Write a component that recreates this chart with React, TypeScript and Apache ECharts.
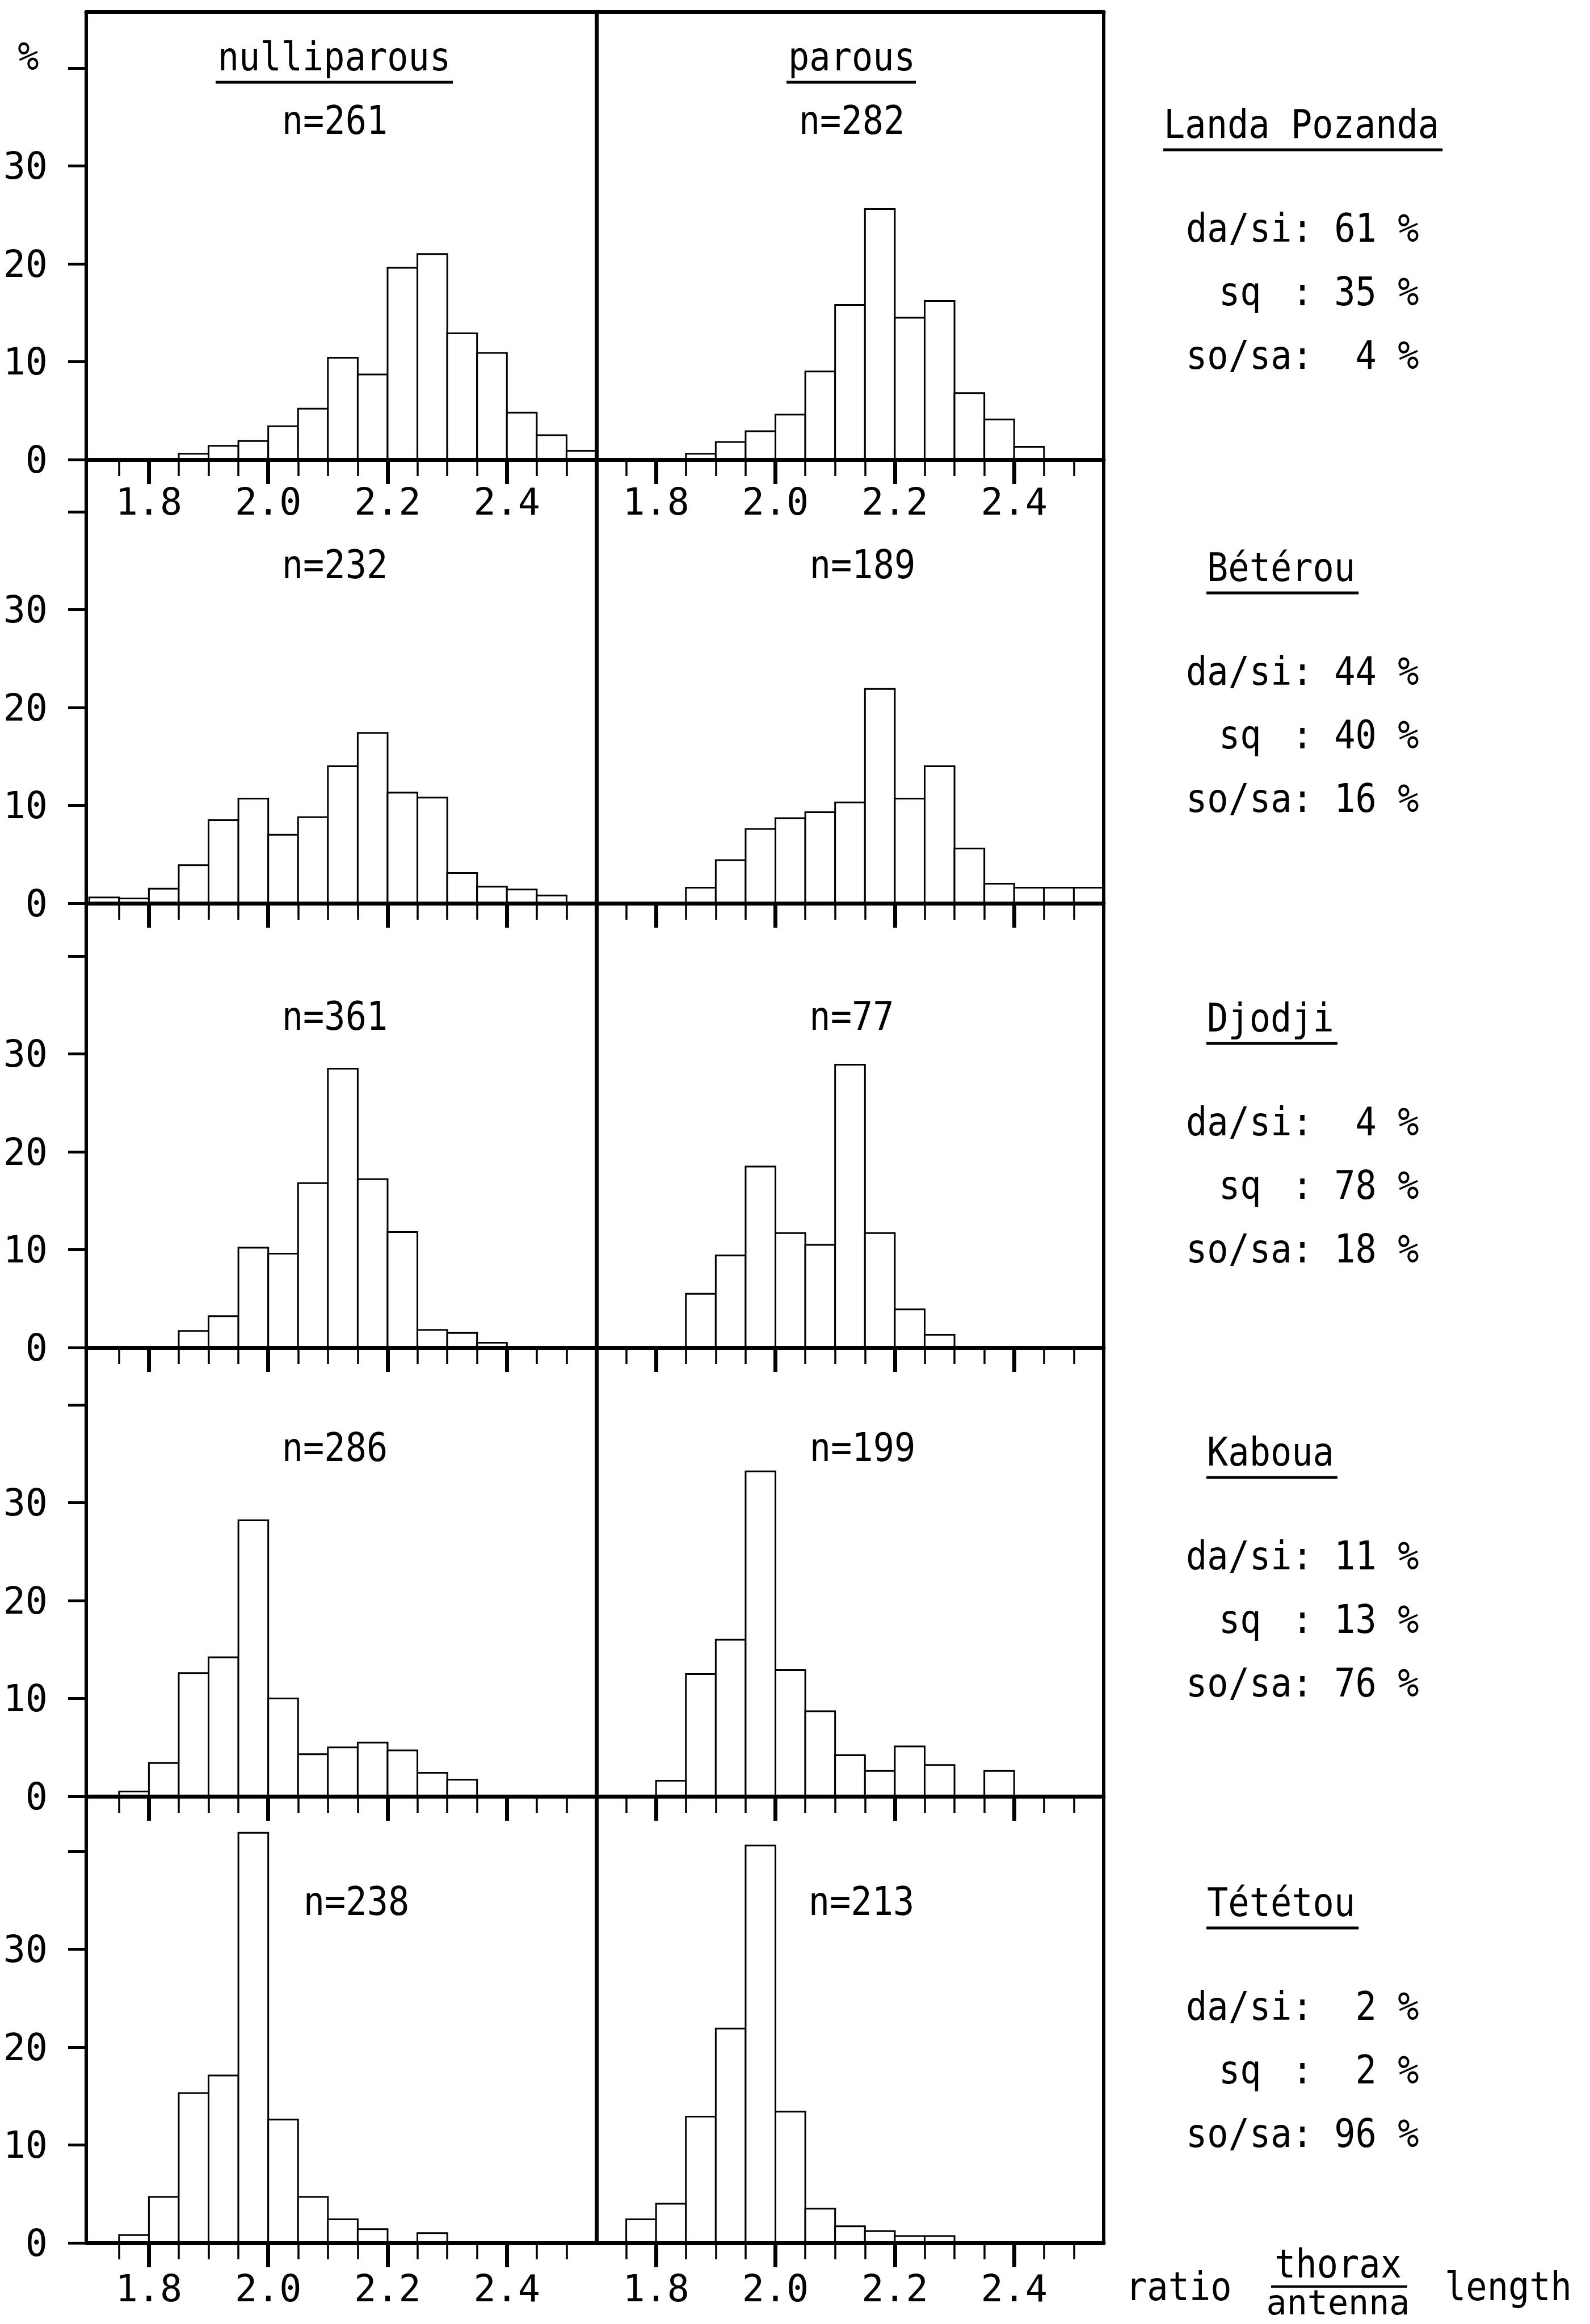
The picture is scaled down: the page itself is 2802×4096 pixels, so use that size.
import React, { useEffect, useRef } from "react";
import * as echarts from "echarts";

// ---------- data ----------
const BIN_EDGES = [1.7, 1.75, 1.8, 1.85, 1.9, 1.95, 2.0, 2.05, 2.1, 2.15, 2.2, 2.25, 2.3, 2.35, 2.4, 2.45, 2.5, 2.55];
const MINOR_TICKS = [1.75, 1.85, 1.9, 1.95, 2.05, 2.1, 2.15, 2.25, 2.3, 2.35, 2.45, 2.5];
const MAJOR_TICKS = [1.8, 2.0, 2.2, 2.4];
const Y_TICKS = [0, 10, 20, 30, 40];
const Y_LABELS = [0, 10, 20, 30];

const SITES = ["Landa Pozanda", "Bétérou", "Djodji", "Kaboua", "Tététou"];
const N_NULLIPAROUS = [261, 232, 361, 286, 238];
const N_PAROUS = [282, 189, 77, 199, 213];
const DA_SI = [61, 44, 4, 11, 2];
const SQ = [35, 40, 78, 13, 2];
const SO_SA = [4, 16, 18, 76, 96];

const NULLI_LANDA = [0, 0, 0, 0.6, 1.4, 1.9, 3.4, 5.2, 10.4, 8.7, 19.6, 21.0, 12.9, 10.9, 4.8, 2.5, 0.9];
const PAROUS_LANDA = [0, 0, 0, 0.6, 1.8, 2.9, 4.6, 9.0, 15.8, 25.6, 14.5, 16.2, 6.8, 4.1, 1.3, 0, 0];
const NULLI_BETEROU = [0.6, 0.5, 1.5, 3.9, 8.5, 10.7, 7.0, 8.8, 14.0, 17.4, 11.3, 10.8, 3.1, 1.7, 1.4, 0.8, 0];
const PAROUS_BETEROU = [0, 0, 0, 1.6, 4.4, 7.6, 8.7, 9.3, 10.3, 21.9, 10.7, 14.0, 5.6, 2.0, 1.6, 1.6, 1.6];
const NULLI_DJODJI = [0, 0, 0, 1.7, 3.2, 10.2, 9.6, 16.8, 28.5, 17.2, 11.8, 1.8, 1.5, 0.5, 0, 0, 0];
const PAROUS_DJODJI = [0, 0, 0, 5.5, 9.4, 18.5, 11.7, 10.5, 28.9, 11.7, 3.9, 1.3, 0, 0, 0, 0, 0];
const NULLI_KABOUA = [0, 0.5, 3.4, 12.6, 14.2, 28.2, 10.0, 4.3, 5.0, 5.5, 4.7, 2.4, 1.7, 0, 0, 0, 0];
const PAROUS_KABOUA = [0, 0, 1.6, 12.5, 16.0, 33.2, 12.9, 8.7, 4.2, 2.6, 5.1, 3.2, 0, 2.6, 0, 0, 0];
const NULLI_TETETOU = [0, 0.8, 4.7, 15.3, 17.1, 41.9, 12.6, 4.7, 2.4, 1.4, 0, 1.0, 0, 0, 0, 0, 0];
const PAROUS_TETETOU = [0, 2.4, 4.0, 12.9, 21.9, 40.6, 13.4, 3.5, 1.7, 1.2, 0.7, 0.7, 0, 0, 0, 0, 0];

const NULLI = [NULLI_LANDA, NULLI_BETEROU, NULLI_DJODJI, NULLI_KABOUA, NULLI_TETETOU];
const PAROUS = [PAROUS_LANDA, PAROUS_BETEROU, PAROUS_DJODJI, PAROUS_KABOUA, PAROUS_TETETOU];

// ---------- layout ----------
const W = 2802;
const H = 4096;
const LEFT_X = 152;
const MID_X = 1051;
const RIGHT_X = 1945;
const TOP_Y = 21;
const BASELINES = [810, 1592, 2375, 3166, 3953];
const PX_PER_PCT = 17.25;
const LEFT_MIN = 1.695;
const RIGHT_MIN = 1.7;
const X_MAX = 2.55;

const FONT = "'DejaVu Sans Mono', monospace";
const FS = 62;
const SY = 1.12;
const ADV = FS * 0.602;
const LABEL_FS = 65;

const N_POS = [
  [[590, 212], [1501, 212]],
  [[590, 995], [1520, 995]],
  [[590, 1791], [1501, 1791]],
  [[590, 2551], [1520, 2551]],
  [[628, 3351], [1518, 3351]],
];
const SITE_TITLE_Y = [219, 1000, 1794, 2559, 3353];
const SITE_TITLE_X = [2051, 2127, 2127, 2127, 2127];
const LINE_OFFSETS = [183, 295, 407];
const LINE_X = 2090;

function pad2(v: number) {
  return v < 10 ? " " + v : String(v);
}

function txt(text: string, x: number, y: number, align: string = "center", sy: number = SY, fs: number = FS) {
  return {
    type: "text",
    x,
    y,
    scaleY: sy,
    z: 10,
    style: {
      text,
      fontFamily: FONT,
      fontSize: fs,
      fill: "#000",
      align,
      verticalAlign: "middle",
      textAlign: align,
      textVerticalAlign: "middle",
    },
  };
}

function hline(x1: number, x2: number, y: number, w: number = 5) {
  return {
    type: "line",
    z: 10,
    shape: { x1, y1: y, x2, y2: y },
    style: { stroke: "#000", lineWidth: w },
  };
}

function buildOption() {
  const grid: any[] = [];
  const xAxis: any[] = [];
  const yAxis: any[] = [];
  const series: any[] = [];

  for (let r = 0; r < 5; r++) {
    const top = r === 0 ? TOP_Y : BASELINES[r - 1];
    const height = BASELINES[r] - top;
    const ymax = height / PX_PER_PCT;
    for (let c = 0; c < 2; c++) {
      const gi = grid.length;
      const left = c === 0 ? LEFT_X : MID_X;
      const width = c === 0 ? MID_X - LEFT_X : RIGHT_X - MID_X;
      grid.push({ left, top, width, height, containLabel: false });
      const xmin = c === 0 ? LEFT_MIN : RIGHT_MIN;
      const showLabels = r === 0 || r === 4;

      const minorIdx = xAxis.length;
      xAxis.push({
        type: "value",
        gridIndex: gi,
        position: "bottom",
        min: xmin,
        max: X_MAX,
        z: 5,
        axisLine: { show: true, onZero: false, lineStyle: { color: "#000", width: 7 } },
        axisTick: { show: true, customValues: MINOR_TICKS, length: 29, lineStyle: { color: "#000", width: 3.5 } },
        axisLabel: { show: false },
        splitLine: { show: false },
      });
      xAxis.push({
        type: "value",
        gridIndex: gi,
        position: "bottom",
        min: xmin,
        max: X_MAX,
        z: 5,
        axisLine: { show: false, onZero: false },
        axisTick: { show: true, customValues: MAJOR_TICKS, length: 43, lineStyle: { color: "#000", width: 7 } },
        axisLabel: {
          show: showLabels,
          customValues: MAJOR_TICKS,
          formatter: (v: number) => v.toFixed(1),
          margin: r === 0 ? 42 : 48,
          fontFamily: FONT,
          fontSize: LABEL_FS,
          color: "#000",
        },
        splitLine: { show: false },
      });
      if (r === 0) {
        xAxis.push({
          type: "value",
          gridIndex: gi,
          position: "top",
          min: xmin,
          max: X_MAX,
          z: 5,
          axisLine: { show: true, onZero: false, lineStyle: { color: "#000", width: 7 } },
          axisTick: { show: false },
          axisLabel: { show: false },
          splitLine: { show: false },
        });
      }

      const mainY = yAxis.length;
      if (c === 0) {
        yAxis.push({
          type: "value",
          gridIndex: gi,
          position: "left",
          min: 0,
          max: ymax,
          z: 5,
          axisLine: { show: true, onZero: false, lineStyle: { color: "#000", width: 6 } },
          axisTick: { show: true, customValues: Y_TICKS, length: 32, lineStyle: { color: "#000", width: 5 } },
          axisLabel: {
            show: true,
            customValues: Y_LABELS,
            margin: 68,
            fontFamily: FONT,
            fontSize: LABEL_FS,
            color: "#000",
          },
          splitLine: { show: false },
        });
      } else {
        yAxis.push({
          type: "value",
          gridIndex: gi,
          position: "left",
          min: 0,
          max: ymax,
          z: 5,
          axisLine: { show: true, onZero: false, lineStyle: { color: "#000", width: 7 } },
          axisTick: { show: false },
          axisLabel: { show: false },
          splitLine: { show: false },
        });
        yAxis.push({
          type: "value",
          gridIndex: gi,
          position: "right",
          min: 0,
          max: ymax,
          z: 5,
          axisLine: { show: true, onZero: false, lineStyle: { color: "#000", width: 6 } },
          axisTick: { show: false },
          axisLabel: { show: false },
          splitLine: { show: false },
        });
      }

      const values = c === 0 ? NULLI[r] : PAROUS[r];
      const data = values.map((v, i) => [BIN_EDGES[i], BIN_EDGES[i + 1], v]);
      series.push({
        type: "custom",
        xAxisIndex: minorIdx,
        yAxisIndex: mainY,
        z: 2,
        encode: { x: [0, 1], y: 2 },
        data,
        renderItem: (params: any, api: any) => {
          const x0 = api.value(0);
          const x1 = api.value(1);
          const v = api.value(2);
          if (!v) return null;
          const p0 = api.coord([x0, 0]);
          const p1 = api.coord([x1, v]);
          return {
            type: "rect",
            shape: { x: p0[0], y: p1[1], width: p1[0] - p0[0], height: p0[1] - p1[1] },
            style: { fill: "#fff", stroke: "#000", lineWidth: 3 },
          };
        },
      });
    }
  }

  const graphic: any[] = [];
  // y unit
  graphic.push(txt("%", 50, 99));
  // column titles
  graphic.push(txt("nulliparous", 589, 100));
  graphic.push(hline(380, 798, 145));
  graphic.push(txt("parous", 1501, 100));
  graphic.push(hline(1386, 1614, 145));
  // n labels
  for (let r = 0; r < 5; r++) {
    graphic.push(txt("n=" + N_NULLIPAROUS[r], N_POS[r][0][0], N_POS[r][0][1]));
    graphic.push(txt("n=" + N_PAROUS[r], N_POS[r][1][0], N_POS[r][1][1]));
  }
  // site blocks
  for (let i = 0; i < 5; i++) {
    const ty = SITE_TITLE_Y[i];
    const tx = SITE_TITLE_X[i];
    graphic.push(txt(SITES[i], tx, ty, "left"));
    graphic.push(hline(tx - 1, tx + SITES[i].length * ADV + 6, ty + 45));
    graphic.push(txt("da/si: " + pad2(DA_SI[i]) + " %", LINE_X, ty + LINE_OFFSETS[0], "left"));
    graphic.push(txt("sq", LINE_X + 58, ty + LINE_OFFSETS[1], "left"));
    graphic.push(txt(": " + pad2(SQ[i]) + " %", LINE_X + 5 * ADV, ty + LINE_OFFSETS[1], "left"));
    graphic.push(txt("so/sa: " + pad2(SO_SA[i]) + " %", LINE_X, ty + LINE_OFFSETS[2], "left"));
  }
  // x axis title
  graphic.push(txt("ratio", 1984, 4030, "left"));
  graphic.push(txt("thorax", 2358, 3990));
  graphic.push(hline(2240, 2480, 4030, 4));
  graphic.push(txt("antenna", 2358, 4058, "center", 1.0, 60));
  graphic.push(txt("length", 2546, 4030, "left"));

  return {
    animation: false,
    backgroundColor: "#fff",
    grid,
    xAxis,
    yAxis,
    series,
    graphic: { elements: graphic },
  };
}

export default function App() {
  const ref = useRef<HTMLDivElement>(null);
  useEffect(() => {
    document.body.style.margin = "0";
    const chart = echarts.init(ref.current as HTMLDivElement, undefined, { renderer: "svg", width: W, height: H });
    chart.setOption(buildOption() as any);
    return () => {
      chart.dispose();
    };
  }, []);
  return <div ref={ref} style={{ width: W, height: H, position: "absolute", left: 0, top: 0, background: "#fff" }} />;
}
